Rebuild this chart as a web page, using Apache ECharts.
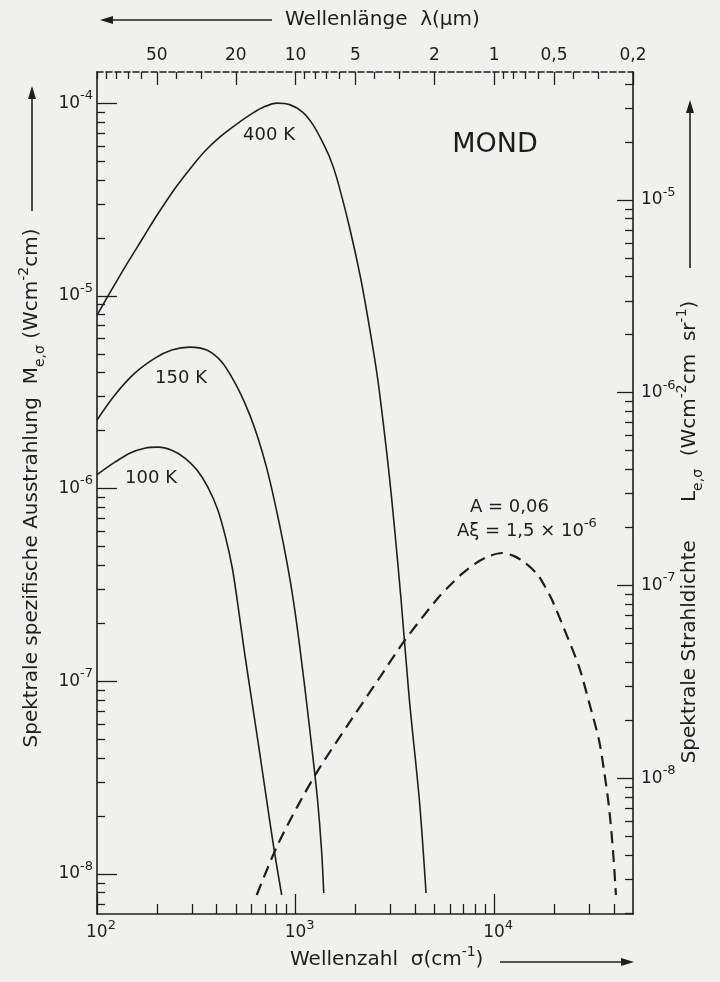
<!DOCTYPE html>
<html>
<head>
<meta charset="utf-8">
<title>Mond</title>
<script src="https://cdn.jsdelivr.net/npm/echarts@6/dist/echarts.min.js"></script>
<style>
  html, body { margin: 0; padding: 0; background: #f0f0ee; }
  #chart { width: 720px; height: 982px; }
</style>
</head>
<body>
<div id="chart"></div>
<script>
// Wellenzahl sigma (cm^-1), spezifische Ausstrahlung M (W cm^-2 cm)
var sigmaMin = 100, sigmaMax = 50000;
var mMin = 6.2e-9, mMax = 1.45e-4;

var curve400K = [
  [100, 7.94e-6], [120, 1.10e-5], [140, 1.44e-5], [170, 1.99e-5], [200, 2.61e-5],
  [250, 3.67e-5], [300, 4.68e-5], [350, 5.64e-5], [415, 6.66e-5], [505, 7.78e-5],
  [608, 8.87e-5], [699, 9.59e-5], [803, 1.0e-4], [933, 9.82e-5], [1084, 8.98e-5],
  [1218, 7.78e-5], [1351, 6.43e-5], [1482, 5.25e-5], [1607, 4.13e-5], [1868, 2.27e-5],
  [2121, 1.25e-5], [2354, 6.88e-6], [2583, 3.79e-6], [2778, 2.09e-6], [2968, 1.15e-6],
  [3145, 6.31e-7], [3398, 2.64e-7], [3741, 8.0e-8], [4200, 2.42e-8], [4539, 7.97e-9]
];
var curve150K = [
  [100, 2.27e-6], [123, 3.06e-6], [155, 3.97e-6], [196, 4.75e-6], [238, 5.23e-6],
  [293, 5.42e-6], [357, 5.23e-6], [425, 4.53e-6], [499, 3.48e-6], [574, 2.56e-6],
  [644, 1.85e-6], [715, 1.28e-6], [791, 8.21e-7], [871, 5.09e-7], [947, 3.16e-7],
  [1015, 1.96e-7], [1078, 1.21e-7], [1140, 7.53e-8], [1211, 4.40e-8], [1290, 2.42e-8],
  [1351, 1.33e-8], [1386, 7.97e-9]
];
var curve100K = [
  [100, 1.18e-6], [123, 1.37e-6], [147, 1.53e-6], [174, 1.62e-6], [203, 1.64e-6],
  [238, 1.58e-6], [277, 1.44e-6], [318, 1.25e-6], [361, 1.02e-6], [406, 7.73e-7],
  [445, 5.53e-7], [480, 3.87e-7], [508, 2.64e-7], [551, 1.45e-7], [601, 8.0e-8],
  [656, 4.40e-8], [715, 2.42e-8], [780, 1.33e-8], [851, 7.78e-9]
];
// reflektierte Sonnenstrahlung, A = 0,06
var moonReflect = [
  [637, 7.78e-9], [803, 1.38e-8], [1024, 2.25e-8], [1320, 3.55e-8], [1934, 6.45e-8],
  [2643, 1.04e-7], [3530, 1.62e-7], [5110, 2.64e-7], [5940, 3.12e-7], [6906, 3.62e-7],
  [8027, 4.08e-7], [9328, 4.44e-7], [10970, 4.63e-7], [12606, 4.46e-7], [14315, 4.11e-7],
  [16450, 3.60e-7], [17836, 3.16e-7], [19565, 2.64e-7], [22740, 1.82e-7], [26735, 1.19e-7],
  [30020, 7.80e-8], [33700, 4.96e-8], [35710, 3.46e-8], [37836, 2.23e-8], [39630, 1.33e-8],
  [41034, 7.78e-9]
];

// Teilstriche
var sigmaMajor = [100, 1000, 10000];
var sigmaMinor = [200, 300, 400, 500, 600, 700, 800, 900,
  2000, 3000, 4000, 5000, 6000, 7000, 8000, 9000, 20000, 30000, 40000];
var lambdaLabels = [50, 20, 10, 5, 2, 1, 0.5, 0.2];
var lambdaMinor = [100, 90, 80, 70, 60, 40, 30, 9, 8, 7, 6, 4, 3,
  0.9, 0.8, 0.7, 0.6, 0.4, 0.3];
var mMajor = [1e-8, 1e-7, 1e-6, 1e-5, 1e-4];
var mMinor = [7e-9, 8e-9, 9e-9,
  2e-8, 3e-8, 4e-8, 5e-8, 6e-8, 7e-8, 8e-8, 9e-8,
  2e-7, 3e-7, 4e-7, 5e-7, 6e-7, 7e-7, 8e-7, 9e-7,
  2e-6, 3e-6, 4e-6, 5e-6, 6e-6, 7e-6, 8e-6, 9e-6,
  2e-5, 3e-5, 4e-5, 5e-5, 6e-5, 7e-5, 8e-5, 9e-5];
var lMajor = [1e-8, 1e-7, 1e-6, 1e-5];
var lMinor = [2e-9, 3e-9, 4e-9, 5e-9, 6e-9, 7e-9, 8e-9, 9e-9,
  2e-8, 3e-8, 4e-8, 5e-8, 6e-8, 7e-8, 8e-8, 9e-8,
  2e-7, 3e-7, 4e-7, 5e-7, 6e-7, 7e-7, 8e-7, 9e-7,
  2e-6, 3e-6, 4e-6, 5e-6, 6e-6, 7e-6, 8e-6, 9e-6,
  2e-5, 3e-5, 4e-5];

var FONT = 'DejaVu Sans';
var ink = '#1e1e1e';

function toSigma(list) {
  return list.map(function (l) { return Math.round(1e4 / l); });
}
function powLabel(v) {
  return '{b|10}{s|' + Math.round(Math.log10(v)) + '}';
}
function powRich(padLeft) {
  return {
    b: { fontSize: 17, fontFamily: FONT, color: ink, lineHeight: 28, verticalAlign: 'middle',
      padding: [0, 0, 0, padLeft] },
    s: { fontSize: 13, fontFamily: FONT, color: ink, verticalAlign: 'top' }
  };
}
// Titel mit Hoch-/Tiefstellung
var titleRich = {
  b: { fontSize: 20, fontFamily: FONT, fill: ink, lineHeight: 30, verticalAlign: 'middle' },
  s: { fontSize: 14, fontFamily: FONT, fill: ink, verticalAlign: 'top' },
  u: { fontSize: 14, fontFamily: FONT, fill: ink, verticalAlign: 'bottom' }
};

function axis(pos, min, max, ticks, len, label, lineType) {
  return {
    type: 'log', logBase: 10, position: pos, min: min, max: max,
    axisLine: { show: !!label, onZero: false,
      lineStyle: { color: ink, width: 1.6, type: lineType || 'solid' } },
    axisTick: { show: true, inside: true, length: len, customValues: ticks,
      lineStyle: { color: ink, width: 1.3 } },
    axisLabel: label || { show: false },
    splitLine: { show: false },
    minorTick: { show: false }
  };
}
function note(x, y, text, align) {
  return { type: 'text', x: x, y: y, style: { text: text, fontFamily: FONT, fill: ink,
    align: align || 'center', verticalAlign: 'middle', rich: titleRich } };
}
function arrow(x1, y1, x2, y2) {
  var a = Math.atan2(y2 - y1, x2 - x1), h = 13, w = 4;
  var bx = x2 - h * Math.cos(a), by = y2 - h * Math.sin(a);
  return [
    { type: 'line', shape: { x1: x1, y1: y1, x2: bx, y2: by }, style: { stroke: ink, lineWidth: 1.6 } },
    { type: 'polygon', shape: { points: [[x2, y2],
      [bx + w * Math.sin(a), by - w * Math.cos(a)], [bx - w * Math.sin(a), by + w * Math.cos(a)]] },
      style: { fill: ink } }
  ];
}

var chart = echarts.init(document.getElementById('chart'));

var option = {
  backgroundColor: '#f0f0ee',
  animation: false,
  textStyle: { fontFamily: FONT, color: ink },
  grid: { left: 97, right: 87, top: 72, bottom: 68, outerBoundsMode: 'none' },
  xAxis: [
    axis('bottom', sigmaMin, sigmaMax, sigmaMajor, 20, {
      show: true, customValues: sigmaMajor, margin: 5, formatter: powLabel, rich: powRich(8)
    }),
    axis('bottom', sigmaMin, sigmaMax, sigmaMinor, 10),
    axis('top', sigmaMin, sigmaMax, toSigma(lambdaLabels), 13, {
      show: true, customValues: toSigma(lambdaLabels), margin: 8,
      fontSize: 17, color: ink, fontFamily: FONT,
      formatter: function (v) { return String(+(1e4 / v).toPrecision(3)).replace('.', ','); }
    }, [6, 3]),
    axis('top', sigmaMin, sigmaMax, toSigma(lambdaMinor), 7)
  ],
  yAxis: [
    axis('left', mMin, mMax, mMajor, 20, {
      show: true, customValues: mMajor, margin: 4, formatter: powLabel, rich: powRich(0)
    }),
    axis('left', mMin, mMax, mMinor, 8),
    axis('right', mMin / Math.PI, mMax / Math.PI, lMajor, 16, {
      show: true, customValues: lMajor, margin: 8, formatter: powLabel, rich: powRich(0)
    }),
    axis('right', mMin / Math.PI, mMax / Math.PI, lMinor, 8)
  ],
  series: [
    { name: '400 K', type: 'line', data: curve400K, showSymbol: false, smooth: 0.3,
      lineStyle: { color: ink, width: 1.6 } },
    { name: '150 K', type: 'line', data: curve150K, showSymbol: false, smooth: 0.3,
      lineStyle: { color: ink, width: 1.6 } },
    { name: '100 K', type: 'line', data: curve100K, showSymbol: false, smooth: 0.3,
      lineStyle: { color: ink, width: 1.6 } },
    { name: 'A = 0,06', type: 'line', data: moonReflect, showSymbol: false, smooth: 0.3,
      lineStyle: { color: ink, width: 2.2, type: [12, 7] } }
  ],
  graphic: [].concat(
    // Wellenlaenge oben
    arrow(272, 20, 100, 20),
    [note(285, 20, '{b|Wellenlänge  λ(µm)}', 'left')],
    // Wellenzahl unten
    [note(290, 960, '{b|Wellenzahl  σ(cm}{s|-1}{b|)}', 'left')],
    arrow(500, 962, 634, 962),
    // links
    [{ type: 'text', x: 32, y: 488, rotation: Math.PI / 2,
      style: { text: '{b|Spektrale spezifische Ausstrahlung  M}{u|e,σ}{b| (Wcm}{s|-2}{b|cm)}',
        fontFamily: FONT, fill: ink, align: 'center', verticalAlign: 'middle', rich: titleRich } }],
    arrow(32, 211, 32, 86),
    // rechts
    [{ type: 'text', x: 690, y: 532, rotation: Math.PI / 2,
      style: { text: '{b|Spektrale Strahldichte      L}{u|e,σ}{b|  (Wcm}{s|-2}{b|cm  sr}{s|-1}{b|)}',
        fontFamily: FONT, fill: ink, align: 'center', verticalAlign: 'middle', rich: titleRich } }],
    arrow(690, 268, 690, 100),
    // Beschriftungen im Diagramm
    [
      { type: 'text', x: 495, y: 145, style: { text: 'MOND', fontSize: 27, fontFamily: FONT, fill: ink,
        align: 'center', verticalAlign: 'middle' } },
      { type: 'text', x: 269, y: 135, style: { text: '400 K', fontSize: 18, fontFamily: FONT, fill: ink,
        align: 'center', verticalAlign: 'middle' } },
      { type: 'text', x: 181, y: 378, style: { text: '150 K', fontSize: 18, fontFamily: FONT, fill: ink,
        align: 'center', verticalAlign: 'middle' } },
      { type: 'text', x: 151, y: 478, style: { text: '100 K', fontSize: 18, fontFamily: FONT, fill: ink,
        align: 'center', verticalAlign: 'middle' } },
      { type: 'text', x: 470, y: 507, style: { text: 'A = 0,06', fontSize: 18, fontFamily: FONT, fill: ink,
        verticalAlign: 'middle' } },
      { type: 'text', x: 457, y: 531, style: { text: '{b|Aξ = 1,5 × 10}{s|-6}', fontFamily: FONT, fill: ink,
        verticalAlign: 'middle', rich: {
          b: { fontSize: 18, fontFamily: FONT, fill: ink, lineHeight: 28, verticalAlign: 'middle' },
          s: { fontSize: 13, fontFamily: FONT, fill: ink, verticalAlign: 'top' } } } }
    ]
  )
};

chart.setOption(option);
</script>
</body>
</html>
